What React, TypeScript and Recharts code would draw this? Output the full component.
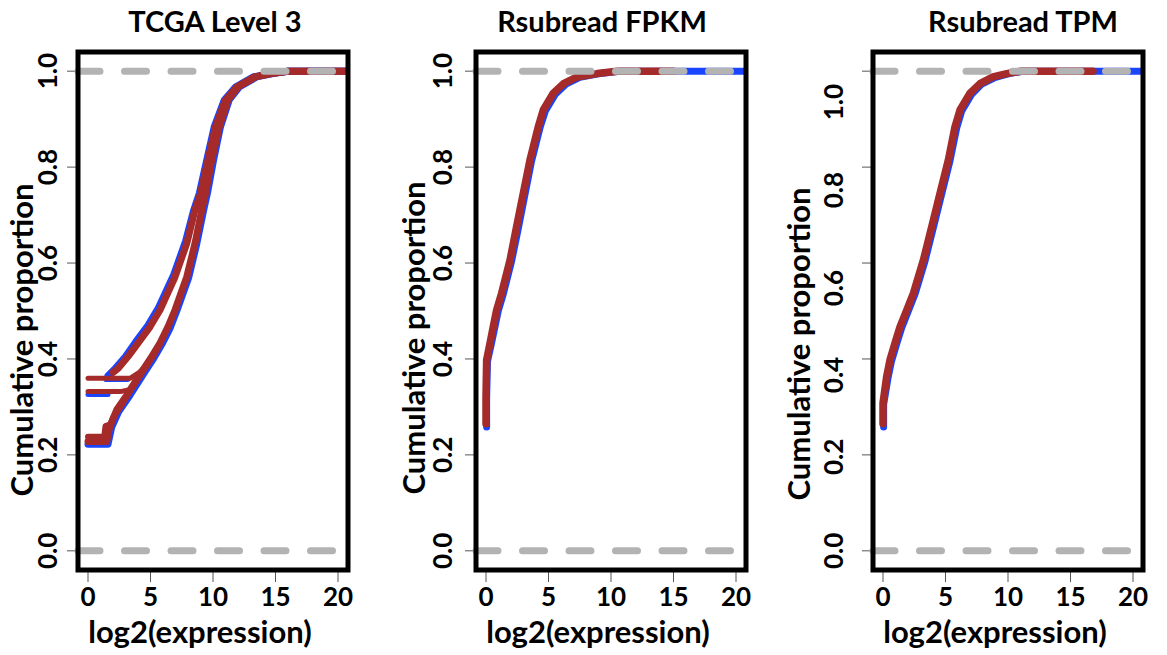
import React from 'react';
import { LineChart, Line, XAxis, YAxis, ReferenceLine, ReferenceArea } from 'recharts';

const xTicks = [0, 5, 10, 15, 20];
const yTicks = [0, 0.2, 0.4, 0.6, 0.8, 1.0];

// TCGA Level 3: two bands of samples, plus the flat starts at zero expression
const tcgaBlueUpper = [[1.6, 0.365], [2.1, 0.378], [3.0, 0.405], [3.8, 0.435], [4.8, 0.47], [5.6, 0.505], [6.85, 0.575], [7.8, 0.645], [8.45, 0.71], [8.9, 0.745], [9.5, 0.815], [10.1, 0.884], [10.9, 0.94], [11.8, 0.967], [13.2, 0.988], [14.5, 0.995], [16, 1], [20.8, 1]];
const tcgaBlueLower = [[0, 0.222], [1.6, 0.222], [1.9, 0.258], [2.45, 0.29], [3.35, 0.324], [4.55, 0.373], [5.25, 0.401], [5.9, 0.43], [6.55, 0.463], [7.1, 0.5], [8.05, 0.569], [8.7, 0.64], [9.25, 0.71], [9.55, 0.745], [10.05, 0.815], [10.6, 0.884], [11.3, 0.94], [12.1, 0.967], [13.5, 0.988], [14.8, 0.995], [16, 1], [20.8, 1]];
const tcgaBlueStepA = [[0, 0.326], [1.6, 0.326]];
const tcgaBlueStepB = [[1.4, 0.356], [3.2, 0.356]];
const tcgaRedUpper = [[2.0, 0.372], [2.4, 0.38], [3.2, 0.405], [4.0, 0.433], [4.96, 0.467], [5.76, 0.502], [6.96, 0.571], [7.9, 0.641], [8.55, 0.71], [9.0, 0.745], [9.6, 0.815], [10.2, 0.884], [11.0, 0.94], [11.9, 0.967], [13.3, 0.988], [14.6, 0.995], [16, 1], [20.8, 1]];
const tcgaRedLower = [[0, 0.228], [1.5, 0.228], [1.7, 0.255], [1.8, 0.262], [2.3, 0.294], [3.2, 0.328], [4.4, 0.377], [5.1, 0.405], [5.76, 0.433], [6.4, 0.467], [6.96, 0.502], [7.9, 0.571], [8.56, 0.641], [9.1, 0.71], [9.4, 0.745], [9.9, 0.815], [10.5, 0.884], [11.2, 0.94], [12.0, 0.967], [13.4, 0.988], [14.7, 0.995], [16, 1], [20.8, 1]];
const tcgaRedLower2 = [[0, 0.238], [1.3, 0.238], [1.4, 0.26], [1.8, 0.264], [2.0, 0.278], [2.6, 0.3], [3.4, 0.335], [4.5, 0.378], [5.2, 0.405], [5.8, 0.433]];
const tcgaRedStepA = [[0, 0.332], [2.6, 0.332], [3.3, 0.336], [4.3, 0.375], [5.0, 0.403]];
const tcgaRedStepB = [[0, 0.36], [3.4, 0.36], [4.1, 0.372], [4.6, 0.385], [5.3, 0.41]];

// Rsubread FPKM
const fpkmBlue = [[0.05, 0.258], [0.05, 0.318], [0.12, 0.395], [0.42, 0.43], [0.7, 0.465], [0.98, 0.5], [1.38, 0.535], [2.05, 0.604], [2.6, 0.674], [3.12, 0.743], [3.65, 0.813], [4.32, 0.882], [4.75, 0.917], [5.55, 0.952], [6.4, 0.973], [7.5, 0.987], [9.1, 0.995], [10.7, 1], [20.8, 1]];
const fpkmRed = [[0, 0.265], [0, 0.321], [0.05, 0.398], [0.32, 0.433], [0.58, 0.467], [0.85, 0.502], [1.25, 0.537], [1.92, 0.606], [2.45, 0.676], [2.98, 0.745], [3.52, 0.815], [4.18, 0.884], [4.58, 0.919], [5.38, 0.954], [6.2, 0.974], [7.3, 0.988], [8.9, 0.995], [10.5, 1], [15, 1]];

// Rsubread TPM
const tpmBlue = [[0.05, 0.258], [0.05, 0.305], [0.4, 0.36], [0.68, 0.395], [1.08, 0.43], [1.5, 0.465], [2.03, 0.5], [2.56, 0.535], [3.36, 0.604], [4.03, 0.674], [4.69, 0.743], [5.36, 0.813], [5.9, 0.882], [6.3, 0.917], [7.1, 0.952], [7.9, 0.973], [9.0, 0.987], [10.1, 0.995], [11.2, 1], [20.8, 1]];
const tpmRed = [[0, 0.265], [0, 0.308], [0.29, 0.363], [0.56, 0.398], [0.96, 0.433], [1.36, 0.467], [1.9, 0.502], [2.43, 0.537], [3.23, 0.606], [3.9, 0.676], [4.56, 0.745], [5.23, 0.815], [5.76, 0.884], [6.16, 0.919], [6.96, 0.954], [7.76, 0.974], [8.8, 0.988], [9.9, 0.995], [11, 1], [16.8, 1]];

const RED = '#a52a2a';
const BLUE = '#1a45ff';
const GREY = '#b3b3b3';
const FONT = 'Lato, "Open Sans", sans-serif';

const AXIS_W = 100;
const PLOT_W = 270;
const PLOT_H = 518;
const TOP = 52;
const CHART_W = AXIS_W + PLOT_W + 16;
const CHART_H = 655;

const toPts = (arr: number[][]) => arr.map(([x, y]) => ({ x, y }));

interface Curve { data: number[][]; color: string; width: number }

interface PanelCfg {
  title: string;
  titleX: number;
  frameLeft: number;
  tickLabelOff: number;
  yLabelOff: number;
  yLabelY: number;
  tickShift: number[];
  curves: Curve[];
}

const panels: PanelCfg[] = [
  {
    title: 'TCGA Level 3', titleX: 215, frameLeft: 78, tickLabelOff: 31, yLabelOff: 57, yLabelY: 340,
    tickShift: [0, 0, 0, 0, 0, 0],
    curves: [
      { data: tcgaBlueUpper, color: BLUE, width: 7 },
      { data: tcgaBlueLower, color: BLUE, width: 7 },
      { data: tcgaBlueStepA, color: BLUE, width: 5 },
      { data: tcgaBlueStepB, color: BLUE, width: 4 },
      { data: tcgaRedUpper, color: RED, width: 7 },
      { data: tcgaRedLower, color: RED, width: 7 },
      { data: tcgaRedLower2, color: RED, width: 6 },
      { data: tcgaRedStepA, color: RED, width: 5 },
      { data: tcgaRedStepB, color: RED, width: 5 },
    ],
  },
  {
    title: 'Rsubread FPKM', titleX: 602, frameLeft: 476, tickLabelOff: 34, yLabelOff: 63, yLabelY: 338,
    tickShift: [0, 0, 0, 0, 0, 0],
    curves: [
      { data: fpkmBlue, color: BLUE, width: 7 },
      { data: fpkmRed, color: RED, width: 7.5 },
    ],
  },
  {
    title: 'Rsubread TPM', titleX: 1023, frameLeft: 873, tickLabelOff: 40, yLabelOff: 75, yLabelY: 344,
    tickShift: [0, 2, 16, 25, 23, 31],
    curves: [
      { data: tpmBlue, color: BLUE, width: 7 },
      { data: tpmRed, color: RED, width: 7.5 },
    ],
  },
];

const textStyle = { fontFamily: FONT, fontWeight: 700, fill: '#000' };

const makeYTick = (cfg: PanelCfg) => (props: any) => {
  const { y, payload } = props;
  const i = yTicks.indexOf(payload.value);
  const lx = AXIS_W - cfg.tickLabelOff;
  const cy = y + (cfg.tickShift[i] || 0);
  return (
    <text x={lx} y={cy} transform={`rotate(-90 ${lx} ${cy})`} textAnchor="middle" dominantBaseline="central" fontSize={26} {...textStyle}>
      {Number(payload.value).toFixed(1)}
    </text>
  );
};

const YLabel = ({ cfg }: { cfg: PanelCfg }) => {
  const lx = AXIS_W - cfg.yLabelOff;
  return (
    <text x={lx} y={cfg.yLabelY} transform={`rotate(-90 ${lx} ${cfg.yLabelY})`} textAnchor="middle" dominantBaseline="central" fontSize={31} {...textStyle}>
      Cumulative proportion
    </text>
  );
};

const XLabel = () => (
  <text x={AXIS_W + PLOT_W / 2 - 13} y={643} textAnchor="middle" fontSize={31} {...textStyle}>
    log2(expression)
  </text>
);

const Panel = ({ cfg }: { cfg: PanelCfg }) => (
  <div style={{ position: 'absolute', left: cfg.frameLeft - AXIS_W, top: 0, width: CHART_W, height: CHART_H }}>
    <LineChart width={CHART_W} height={CHART_H} margin={{ top: TOP, right: CHART_W - AXIS_W - PLOT_W, bottom: 0, left: 0 }}>
      <XAxis
        type="number"
        dataKey="x"
        domain={[-0.8, 20.8]}
        ticks={xTicks}
        allowDataOverflow
        height={CHART_H - TOP - PLOT_H}
        axisLine={false}
        tickLine={{ stroke: '#555', strokeWidth: 1 }}
        tickSize={12}
        tickMargin={6}
        tick={{ fontSize: 26, ...textStyle }}
        label={<XLabel />}
      />
      <YAxis
        type="number"
        dataKey="y"
        domain={[-0.04, 1.04]}
        ticks={yTicks}
        allowDataOverflow
        width={AXIS_W}
        axisLine={false}
        tickLine={{ stroke: '#555', strokeWidth: 1 }}
        tickSize={11}
        tick={makeYTick(cfg)}
        label={<YLabel cfg={cfg} />}
      />
      {cfg.curves.map((c, i) => (
        <Line
          key={i}
          data={toPts(c.data)}
          dataKey="y"
          type="linear"
          stroke={c.color}
          strokeWidth={c.width}
          strokeLinejoin="round"
          strokeLinecap="round"
          dot={false}
          isAnimationActive={false}
        />
      ))}
      <ReferenceLine y={1} stroke={GREY} strokeWidth={7} strokeDasharray="22 24.5" strokeLinecap="round" zIndex={1000} />
      <ReferenceLine y={0} stroke={GREY} strokeWidth={7} strokeDasharray="22 24.5" strokeLinecap="round" zIndex={1000} />
      <ReferenceArea x1={-0.8} x2={20.8} y1={-0.04} y2={1.04} fill="none" fillOpacity={0} stroke="#000" strokeWidth={5} zIndex={1100} />
    </LineChart>
    <div
      style={{
        position: 'absolute',
        top: 6,
        left: cfg.titleX - (cfg.frameLeft - AXIS_W),
        transform: 'translateX(-50%)',
        fontFamily: FONT,
        fontWeight: 700,
        fontSize: 29,
        lineHeight: '29px',
        whiteSpace: 'nowrap',
        color: '#000',
      }}
    >
      {cfg.title}
    </div>
  </div>
);

export default function App() {
  return (
    <div style={{ position: 'absolute', left: 0, top: 0, width: 1167, height: 655, background: '#fff', overflow: 'hidden' }}>
      {panels.map((p) => (
        <Panel key={p.title} cfg={p} />
      ))}
    </div>
  );
}
